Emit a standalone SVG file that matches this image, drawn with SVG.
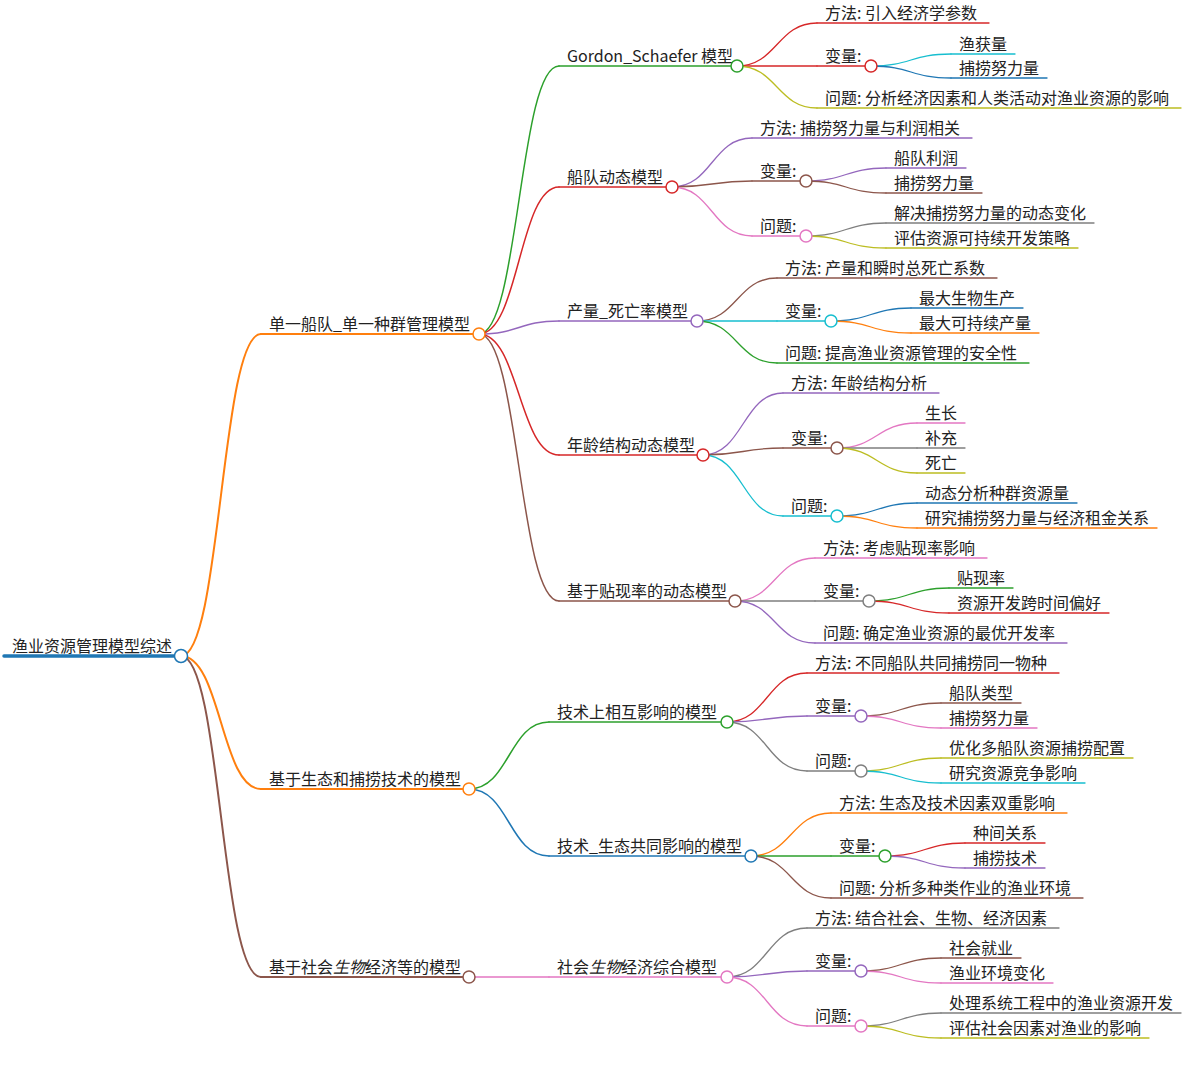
<svg xmlns="http://www.w3.org/2000/svg" width="1187" height="1070" viewBox="0 0 1187 1070">
<style>
text{font-family:"Noto Sans CJK SC","Noto Sans",sans-serif;font-size:16px;fill:#222}
.ln,.lk{fill:none;stroke-linecap:round}
.dot{fill:#fff;stroke-width:1.5}
.d0{stroke-width:3.5}.d1{stroke-width:2}.d2{stroke-width:1.5}.d3{stroke-width:1.3}
.blue{stroke:#1f77b4}.orange{stroke:#ff7f0e}.green{stroke:#2ca02c}.red{stroke:#d62728}.purple{stroke:#9467bd}.brown{stroke:#8c564b}.pink{stroke:#e377c2}.gray{stroke:#7f7f7f}.olive{stroke:#bcbd22}.cyan{stroke:#17becf}
.it{font-style:italic}
</style>
<rect width="1187" height="1070" fill="#fff"/>
<g id="connectors">
<path class="lk d1 orange" d="M181,656 C221,656 221,334 261,334"/>
<path class="lk d1 orange" d="M181,656 C221,656 221,789 261,789"/>
<path class="lk d1 brown" d="M181,656 C221,656 221,977 261,977"/>
<path class="lk d2 green" d="M479,334 C519,334 519,66 559,66"/>
<path class="lk d2 red" d="M479,334 C519,334 519,187 559,187"/>
<path class="lk d2 purple" d="M479,334 C519,334 519,321 559,321"/>
<path class="lk d2 red" d="M479,334 C519,334 519,455 559,455"/>
<path class="lk d2 brown" d="M479,334 C519,334 519,601 559,601"/>
<path class="lk d3 red" d="M737,66 C777,66 777,23 817,23"/>
<path class="lk d3 red" d="M737,66 C777,66 777,66 817,66"/>
<path class="lk d3 olive" d="M737,66 C777,66 777,108 817,108"/>
<path class="lk d3 cyan" d="M871,66 C911,66 911,54 951,54"/>
<path class="lk d3 blue" d="M871,66 C911,66 911,78 951,78"/>
<path class="lk d3 purple" d="M672,187 C712,187 712,138 752,138"/>
<path class="lk d3 brown" d="M672,187 C712,187 712,181 752,181"/>
<path class="lk d3 pink" d="M672,187 C712,187 712,236 752,236"/>
<path class="lk d3 purple" d="M806,181 C846,181 846,168 886,168"/>
<path class="lk d3 brown" d="M806,181 C846,181 846,193 886,193"/>
<path class="lk d3 gray" d="M806,236 C846,236 846,223 886,223"/>
<path class="lk d3 olive" d="M806,236 C846,236 846,248 886,248"/>
<path class="lk d3 brown" d="M697,321 C737,321 737,278 777,278"/>
<path class="lk d3 cyan" d="M697,321 C737,321 737,321 777,321"/>
<path class="lk d3 green" d="M697,321 C737,321 737,363 777,363"/>
<path class="lk d3 blue" d="M831,321 C871,321 871,308 911,308"/>
<path class="lk d3 orange" d="M831,321 C871,321 871,333 911,333"/>
<path class="lk d3 purple" d="M703,455 C743,455 743,393 783,393"/>
<path class="lk d3 brown" d="M703,455 C743,455 743,448 783,448"/>
<path class="lk d3 cyan" d="M703,455 C743,455 743,516 783,516"/>
<path class="lk d3 pink" d="M837,448 C877,448 877,423 917,423"/>
<path class="lk d3 gray" d="M837,448 C877,448 877,448 917,448"/>
<path class="lk d3 olive" d="M837,448 C877,448 877,473 917,473"/>
<path class="lk d3 blue" d="M837,516 C877,516 877,503 917,503"/>
<path class="lk d3 orange" d="M837,516 C877,516 877,528 917,528"/>
<path class="lk d3 pink" d="M735,601 C775,601 775,558 815,558"/>
<path class="lk d3 gray" d="M735,601 C775,601 775,601 815,601"/>
<path class="lk d3 purple" d="M735,601 C775,601 775,643 815,643"/>
<path class="lk d3 green" d="M869,601 C909,601 909,588 949,588"/>
<path class="lk d3 red" d="M869,601 C909,601 909,613 949,613"/>
<path class="lk d2 green" d="M469,789 C509,789 509,722 549,722"/>
<path class="lk d2 blue" d="M469,789 C509,789 509,856 549,856"/>
<path class="lk d3 red" d="M727,722 C767,722 767,673 807,673"/>
<path class="lk d3 purple" d="M727,722 C767,722 767,716 807,716"/>
<path class="lk d3 gray" d="M727,722 C767,722 767,771 807,771"/>
<path class="lk d3 brown" d="M861,716 C901,716 901,703 941,703"/>
<path class="lk d3 pink" d="M861,716 C901,716 901,728 941,728"/>
<path class="lk d3 olive" d="M861,771 C901,771 901,758 941,758"/>
<path class="lk d3 cyan" d="M861,771 C901,771 901,783 941,783"/>
<path class="lk d3 orange" d="M751,856 C791,856 791,813 831,813"/>
<path class="lk d3 green" d="M751,856 C791,856 791,856 831,856"/>
<path class="lk d3 brown" d="M751,856 C791,856 791,898 831,898"/>
<path class="lk d3 red" d="M885,856 C925,856 925,843 965,843"/>
<path class="lk d3 purple" d="M885,856 C925,856 925,868 965,868"/>
<path class="lk d2 pink" d="M469,977 C509,977 509,977 549,977"/>
<path class="lk d3 gray" d="M727,977 C767,977 767,928 807,928"/>
<path class="lk d3 purple" d="M727,977 C767,977 767,971 807,971"/>
<path class="lk d3 pink" d="M727,977 C767,977 767,1026 807,1026"/>
<path class="lk d3 brown" d="M861,971 C901,971 901,958 941,958"/>
<path class="lk d3 pink" d="M861,971 C901,971 901,983 941,983"/>
<path class="lk d3 gray" d="M861,1026 C901,1026 901,1013 941,1013"/>
<path class="lk d3 olive" d="M861,1026 C901,1026 901,1038 941,1038"/>
</g>
<g id="n-root"><line class="ln d0 blue" x1="4" y1="656" x2="181" y2="656"/><text x="12" y="652">渔业资源管理模型综述</text><circle class="dot blue" cx="181" cy="656" r="6.5"/></g>
<g id="n-a"><line class="ln d1 orange" x1="261" y1="334" x2="479" y2="334"/><text x="269" y="330">单一船队_单一种群管理模型</text><circle class="dot orange" cx="479" cy="334" r="6"/></g>
<g id="n-b"><line class="ln d1 orange" x1="261" y1="789" x2="469" y2="789"/><text x="269" y="785">基于生态和捕捞技术的模型</text><circle class="dot orange" cx="469" cy="789" r="6"/></g>
<g id="n-c"><line class="ln d1 brown" x1="261" y1="977" x2="469" y2="977"/><text x="269" y="973">基于社会<tspan class="it">生物</tspan>经济等的模型</text><circle class="dot brown" cx="469" cy="977" r="6"/></g>
<g id="n-a1"><line class="ln d2 green" x1="559" y1="66" x2="737" y2="66"/><text x="567" y="62">Gordon_Schaefer 模型</text><circle class="dot green" cx="737" cy="66" r="6"/></g>
<g id="n-a1a"><line class="ln d3 red" x1="817" y1="23" x2="989" y2="23"/><text x="825" y="19">方法: 引入经济学参数</text></g>
<g id="n-a1b"><line class="ln d3 red" x1="817" y1="66" x2="871" y2="66"/><text x="825" y="62">变量:</text><circle class="dot red" cx="871" cy="66" r="6"/></g>
<g id="n-a1b1"><line class="ln d3 cyan" x1="951" y1="54" x2="1015" y2="54"/><text x="959" y="50">渔获量</text></g>
<g id="n-a1b2"><line class="ln d3 blue" x1="951" y1="78" x2="1047" y2="78"/><text x="959" y="74">捕捞努力量</text></g>
<g id="n-a1c"><line class="ln d3 olive" x1="817" y1="108" x2="1181" y2="108"/><text x="825" y="104">问题: 分析经济因素和人类活动对渔业资源的影响</text></g>
<g id="n-a2"><line class="ln d2 red" x1="559" y1="187" x2="672" y2="187"/><text x="567" y="183">船队动态模型</text><circle class="dot red" cx="672" cy="187" r="6"/></g>
<g id="n-a2a"><line class="ln d3 purple" x1="752" y1="138" x2="972" y2="138"/><text x="760" y="134">方法: 捕捞努力量与利润相关</text></g>
<g id="n-a2b"><line class="ln d3 brown" x1="752" y1="181" x2="806" y2="181"/><text x="760" y="177">变量:</text><circle class="dot brown" cx="806" cy="181" r="6"/></g>
<g id="n-a2b1"><line class="ln d3 purple" x1="886" y1="168" x2="966" y2="168"/><text x="894" y="164">船队利润</text></g>
<g id="n-a2b2"><line class="ln d3 brown" x1="886" y1="193" x2="982" y2="193"/><text x="894" y="189">捕捞努力量</text></g>
<g id="n-a2c"><line class="ln d3 pink" x1="752" y1="236" x2="806" y2="236"/><text x="760" y="232">问题:</text><circle class="dot pink" cx="806" cy="236" r="6"/></g>
<g id="n-a2c1"><line class="ln d3 gray" x1="886" y1="223" x2="1094" y2="223"/><text x="894" y="219">解决捕捞努力量的动态变化</text></g>
<g id="n-a2c2"><line class="ln d3 olive" x1="886" y1="248" x2="1078" y2="248"/><text x="894" y="244">评估资源可持续开发策略</text></g>
<g id="n-a3"><line class="ln d2 purple" x1="559" y1="321" x2="697" y2="321"/><text x="567" y="317">产量_死亡率模型</text><circle class="dot purple" cx="697" cy="321" r="6"/></g>
<g id="n-a3a"><line class="ln d3 brown" x1="777" y1="278" x2="997" y2="278"/><text x="785" y="274">方法: 产量和瞬时总死亡系数</text></g>
<g id="n-a3b"><line class="ln d3 cyan" x1="777" y1="321" x2="831" y2="321"/><text x="785" y="317">变量:</text><circle class="dot cyan" cx="831" cy="321" r="6"/></g>
<g id="n-a3b1"><line class="ln d3 blue" x1="911" y1="308" x2="1023" y2="308"/><text x="919" y="304">最大生物生产</text></g>
<g id="n-a3b2"><line class="ln d3 orange" x1="911" y1="333" x2="1039" y2="333"/><text x="919" y="329">最大可持续产量</text></g>
<g id="n-a3c"><line class="ln d3 green" x1="777" y1="363" x2="1029" y2="363"/><text x="785" y="359">问题: 提高渔业资源管理的安全性</text></g>
<g id="n-a4"><line class="ln d2 red" x1="559" y1="455" x2="703" y2="455"/><text x="567" y="451">年龄结构动态模型</text><circle class="dot red" cx="703" cy="455" r="6"/></g>
<g id="n-a4a"><line class="ln d3 purple" x1="783" y1="393" x2="939" y2="393"/><text x="791" y="389">方法: 年龄结构分析</text></g>
<g id="n-a4b"><line class="ln d3 brown" x1="783" y1="448" x2="837" y2="448"/><text x="791" y="444">变量:</text><circle class="dot brown" cx="837" cy="448" r="6"/></g>
<g id="n-a4b1"><line class="ln d3 pink" x1="917" y1="423" x2="965" y2="423"/><text x="925" y="419">生长</text></g>
<g id="n-a4b2"><line class="ln d3 gray" x1="917" y1="448" x2="965" y2="448"/><text x="925" y="444">补充</text></g>
<g id="n-a4b3"><line class="ln d3 olive" x1="917" y1="473" x2="965" y2="473"/><text x="925" y="469">死亡</text></g>
<g id="n-a4c"><line class="ln d3 cyan" x1="783" y1="516" x2="837" y2="516"/><text x="791" y="512">问题:</text><circle class="dot cyan" cx="837" cy="516" r="6"/></g>
<g id="n-a4c1"><line class="ln d3 blue" x1="917" y1="503" x2="1077" y2="503"/><text x="925" y="499">动态分析种群资源量</text></g>
<g id="n-a4c2"><line class="ln d3 orange" x1="917" y1="528" x2="1157" y2="528"/><text x="925" y="524">研究捕捞努力量与经济租金关系</text></g>
<g id="n-a5"><line class="ln d2 brown" x1="559" y1="601" x2="735" y2="601"/><text x="567" y="597">基于贴现率的动态模型</text><circle class="dot brown" cx="735" cy="601" r="6"/></g>
<g id="n-a5a"><line class="ln d3 pink" x1="815" y1="558" x2="987" y2="558"/><text x="823" y="554">方法: 考虑贴现率影响</text></g>
<g id="n-a5b"><line class="ln d3 gray" x1="815" y1="601" x2="869" y2="601"/><text x="823" y="597">变量:</text><circle class="dot gray" cx="869" cy="601" r="6"/></g>
<g id="n-a5b1"><line class="ln d3 green" x1="949" y1="588" x2="1013" y2="588"/><text x="957" y="584">贴现率</text></g>
<g id="n-a5b2"><line class="ln d3 red" x1="949" y1="613" x2="1109" y2="613"/><text x="957" y="609">资源开发跨时间偏好</text></g>
<g id="n-a5c"><line class="ln d3 purple" x1="815" y1="643" x2="1067" y2="643"/><text x="823" y="639">问题: 确定渔业资源的最优开发率</text></g>
<g id="n-b1"><line class="ln d2 green" x1="549" y1="722" x2="727" y2="722"/><text x="557" y="718">技术上相互影响的模型</text><circle class="dot green" cx="727" cy="722" r="6"/></g>
<g id="n-b1a"><line class="ln d3 red" x1="807" y1="673" x2="1059" y2="673"/><text x="815" y="669">方法: 不同船队共同捕捞同一物种</text></g>
<g id="n-b1b"><line class="ln d3 purple" x1="807" y1="716" x2="861" y2="716"/><text x="815" y="712">变量:</text><circle class="dot purple" cx="861" cy="716" r="6"/></g>
<g id="n-b1b1"><line class="ln d3 brown" x1="941" y1="703" x2="1021" y2="703"/><text x="949" y="699">船队类型</text></g>
<g id="n-b1b2"><line class="ln d3 pink" x1="941" y1="728" x2="1037" y2="728"/><text x="949" y="724">捕捞努力量</text></g>
<g id="n-b1c"><line class="ln d3 gray" x1="807" y1="771" x2="861" y2="771"/><text x="815" y="767">问题:</text><circle class="dot gray" cx="861" cy="771" r="6"/></g>
<g id="n-b1c1"><line class="ln d3 olive" x1="941" y1="758" x2="1133" y2="758"/><text x="949" y="754">优化多船队资源捕捞配置</text></g>
<g id="n-b1c2"><line class="ln d3 cyan" x1="941" y1="783" x2="1085" y2="783"/><text x="949" y="779">研究资源竞争影响</text></g>
<g id="n-b2"><line class="ln d2 blue" x1="549" y1="856" x2="751" y2="856"/><text x="557" y="852">技术_生态共同影响的模型</text><circle class="dot blue" cx="751" cy="856" r="6"/></g>
<g id="n-b2a"><line class="ln d3 orange" x1="831" y1="813" x2="1067" y2="813"/><text x="839" y="809">方法: 生态及技术因素双重影响</text></g>
<g id="n-b2b"><line class="ln d3 green" x1="831" y1="856" x2="885" y2="856"/><text x="839" y="852">变量:</text><circle class="dot green" cx="885" cy="856" r="6"/></g>
<g id="n-b2b1"><line class="ln d3 red" x1="965" y1="843" x2="1045" y2="843"/><text x="973" y="839">种间关系</text></g>
<g id="n-b2b2"><line class="ln d3 purple" x1="965" y1="868" x2="1045" y2="868"/><text x="973" y="864">捕捞技术</text></g>
<g id="n-b2c"><line class="ln d3 brown" x1="831" y1="898" x2="1083" y2="898"/><text x="839" y="894">问题: 分析多种类作业的渔业环境</text></g>
<g id="n-c1"><line class="ln d2 pink" x1="549" y1="977" x2="727" y2="977"/><text x="557" y="973">社会<tspan class="it">生物</tspan>经济综合模型</text><circle class="dot pink" cx="727" cy="977" r="6"/></g>
<g id="n-c1a"><line class="ln d3 gray" x1="807" y1="928" x2="1059" y2="928"/><text x="815" y="924">方法: 结合社会、生物、经济因素</text></g>
<g id="n-c1b"><line class="ln d3 purple" x1="807" y1="971" x2="861" y2="971"/><text x="815" y="967">变量:</text><circle class="dot purple" cx="861" cy="971" r="6"/></g>
<g id="n-c1b1"><line class="ln d3 brown" x1="941" y1="958" x2="1021" y2="958"/><text x="949" y="954">社会就业</text></g>
<g id="n-c1b2"><line class="ln d3 pink" x1="941" y1="983" x2="1053" y2="983"/><text x="949" y="979">渔业环境变化</text></g>
<g id="n-c1c"><line class="ln d3 pink" x1="807" y1="1026" x2="861" y2="1026"/><text x="815" y="1022">问题:</text><circle class="dot pink" cx="861" cy="1026" r="6"/></g>
<g id="n-c1c1"><line class="ln d3 gray" x1="941" y1="1013" x2="1181" y2="1013"/><text x="949" y="1009">处理系统工程中的渔业资源开发</text></g>
<g id="n-c1c2"><line class="ln d3 olive" x1="941" y1="1038" x2="1149" y2="1038"/><text x="949" y="1034">评估社会因素对渔业的影响</text></g>
</svg>
